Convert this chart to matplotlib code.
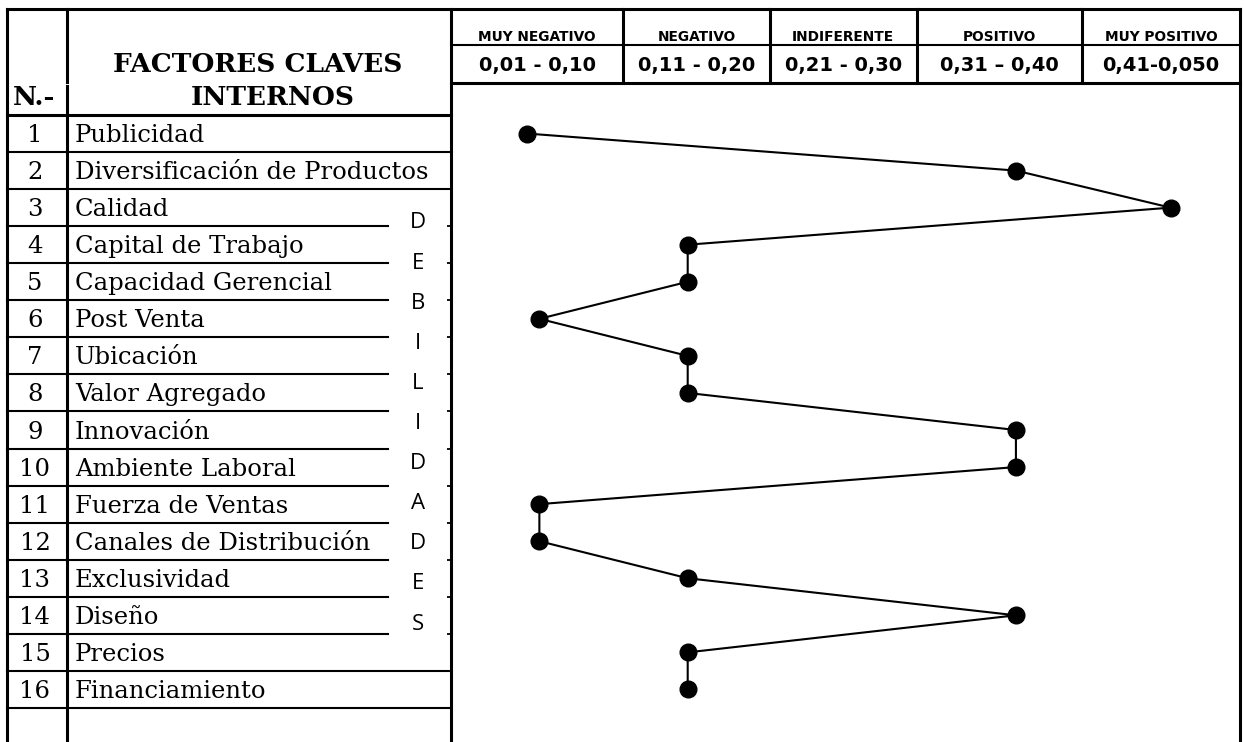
import numpy as np
import matplotlib.pyplot as plt
from matplotlib import transforms
from matplotlib.lines import Line2D

# factores claves internos y su calificación
factores = ["Publicidad", "Diversificación de Productos", "Calidad", "Capital de Trabajo",
            "Capacidad Gerencial", "Post Venta", "Ubicación", "Valor Agregado", "Innovación",
            "Ambiente Laboral", "Fuerza de Ventas", "Canales de Distribución", "Exclusividad",
            "Diseño", "Precios", "Financiamiento"]
calificacion = [0.048, 0.358, 0.456, 0.15, 0.15, 0.056, 0.15, 0.15,
                0.358, 0.358, 0.056, 0.056, 0.15, 0.358, 0.15, 0.15]
categorias = ["MUY NEGATIVO", "NEGATIVO", "INDIFERENTE", "POSITIVO", "MUY POSITIVO"]
rangos = ["0,01 - 0,10", "0,11 - 0,20", "0,21 - 0,30", "0,31 – 0,40", "0,41-0,050"]
limites = [0, 0.109, 0.202, 0.295, 0.40, 0.50]
lateral = "DEBILIDADES"

# medidas de la tabla en pixeles
W, H = 1244, 742
X_LEFT, X_NUM, X_PANEL, X_RIGHT, X_CUT = 7, 67, 451, 1240, 388
Y_TOP, Y_MID, Y_HEAD, Y_ROW0, ROW_H = 9, 45, 83, 115, 37.06
THIN, THICK = 1.5, 2.2
SERIF = "DejaVu Serif"
SANS = "DejaVu Sans"

fig = plt.figure(figsize=(W / 100, H / 100), dpi=100)
fig.patch.set_facecolor("white")

# capa de la tabla, en pixeles
tab = fig.add_axes([0, 0, 1, 1])
tab.set_xlim(0, W)
tab.set_ylim(H, 0)
tab.axis("off")


def linea(xs, ys, lw=THIN, trans=None):
    tab.add_line(Line2D(xs, ys, color="black", lw=lw, solid_capstyle="projecting",
                        transform=trans if trans is not None else tab.transData))


n = len(factores)
y_fin = Y_ROW0 + n * ROW_H

# panel del grafico
ax = fig.add_axes([X_PANEL / W, 1 - y_fin / H, (X_RIGHT - X_PANEL) / W, n * ROW_H / H])
ax.set_xlim(0, 0.5)
ax.set_ylim(n + 0.5, 0.5)
ax.patch.set_visible(False)
filas = np.arange(1, n + 1)
ax.plot(calificacion, filas, color="black", lw=1.5, marker="o", ms=12, clip_on=False)
ax.set_yticks(np.arange(0.5, n + 1))
ax.tick_params(axis="y", direction="out", length=3, width=1.3, labelleft=False)
ax.set_xticks([])
for s in ax.spines.values():
    s.set_visible(False)

# bordes generales
linea([X_LEFT, X_RIGHT], [Y_TOP, Y_TOP], THICK)
linea([X_LEFT, X_LEFT], [Y_TOP, H], THICK)
linea([X_NUM, X_NUM], [Y_TOP, 82], THICK)
linea([X_NUM, X_NUM], [86, H], THICK)
linea([X_PANEL, X_PANEL], [Y_TOP, H], THICK)
linea([X_RIGHT, X_RIGHT], [Y_TOP, H], THICK)

# encabezado de categorias y rangos
mix = transforms.blended_transform_factory(ax.transData, tab.transData)
linea([0, 0.5], [Y_MID, Y_MID], THIN, mix)
linea([0, 0.5], [Y_HEAD, Y_HEAD], THICK, mix)
for x in limites[1:-1]:
    linea([x, x], [Y_TOP, Y_HEAD], THICK, mix)
for i, (cat, rango) in enumerate(zip(categorias, rangos)):
    xc = (limites[i] + limites[i + 1]) / 2
    tab.text(xc, 41, cat, transform=mix, ha="center", va="baseline",
             fontsize=9.9, fontweight="bold", family=SANS)
    tab.text(xc, 71, rango, transform=mix, ha="center", va="baseline",
             fontsize=14, fontweight="bold", family=SANS)

# encabezado de la tabla
tab.text(34, 105, "N.-", ha="center", va="baseline", fontsize=19, fontweight="bold", family=SERIF)
tab.text(258, 72, "FACTORES CLAVES", ha="center", va="baseline", fontsize=19,
         fontweight="bold", family=SERIF)
tab.text(273, 105, "INTERNOS", ha="center", va="baseline", fontsize=19,
         fontweight="bold", family=SERIF)
linea([X_LEFT, X_PANEL], [Y_ROW0, Y_ROW0], THICK)

# filas de factores
for i, nombre in enumerate(factores):
    y0 = Y_ROW0 + i * ROW_H
    yc = y0 + ROW_H / 2
    tab.text(35, yc + 8.5, str(i + 1), ha="center", va="baseline", fontsize=17.5, family=SERIF)
    tab.text(75, yc + 8.5, nombre, ha="left", va="baseline", fontsize=17.5, family=SERIF)
    yb = y0 + ROW_H
    fin = X_CUT if 2 <= i <= 13 else X_PANEL
    linea([X_LEFT, fin], [yb, yb], THIN)

# letras verticales
for i, letra in enumerate(lateral):
    tab.text(418, 221 + i * 40.1 + 7.5, letra, ha="center", va="baseline",
             fontsize=16, family="Open Sans")

fig.savefig("out.png", dpi=100, facecolor="white")
